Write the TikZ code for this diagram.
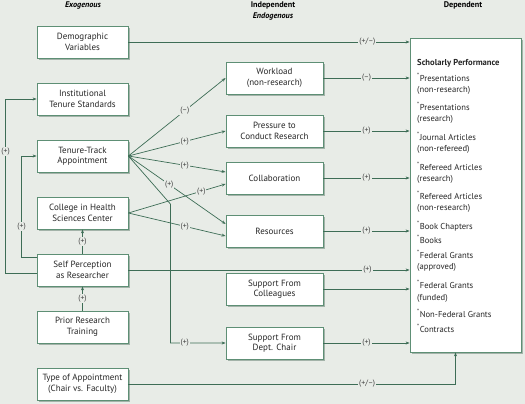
\documentclass[tikz,border=0pt]{standalone}
\usepackage{fontspec}
\setmainfont{PT Sans}
\usetikzlibrary{arrows.meta, shadows}
\definecolor{bgc}{HTML}{E8ECE7}
\definecolor{lnc}{HTML}{3D6D56}
\definecolor{bxc}{HTML}{5E8F75}
\definecolor{shc}{HTML}{A3B3A9}
\newcommand{\itemstar}{\textsuperscript{*}}

\tikzset{
  box/.style={draw=bxc, line width=0.8pt, fill=white, minimum width=91pt,
    minimum height=32pt, inner sep=1pt, align=center, text=black!85,
    font=\fontsize{9}{10.5}\selectfont,
    drop shadow={shadow xshift=2pt, shadow yshift=-2pt, fill=shc, opacity=1}},
  midbox/.style={box, minimum width=97pt},
  link/.style={draw=lnc, line width=0.7pt, -{Stealth[length=4pt,width=3pt]}},
  sign/.style={fill=bgc, inner sep=1pt, text=black!75, font=\fontsize{7.8}{9}\selectfont},
  head/.style={font=\fontsize{8.2}{9}\selectfont\bfseries},
  depitem/.style={anchor=west, inner sep=0pt, text=black!85,
    text height=1.6ex, text depth=.3ex, font=\fontsize{8.6}{9}\selectfont},
}

\begin{document}
\begin{tikzpicture}[x=1pt, y=-1pt]
        % Background
        \fill[bgc] (0,0) rectangle (525,404);
        \useasboundingbox (0,0) rectangle (525,404);

        % Column heads
        \node[head] (hexo) at (83,5) {\itshape Exogenous};
        \node[head] (hind) at (273,5) {Independent};
        \node[head] (hendo) at (273,16) {\itshape Endogenous};
        \node[head] (hdep) at (463,5) {Dependent};

        % Exogenous boxes
        \node[box] (demo) at (82.5,42) {Demographic\\Variables};
        \node[box] (inst) at (82.5,99) {Institutional\\Tenure Standards};
        \node[box] (tt) at (82.5,156) {Tenure-Track\\Appointment};
        \node[box] (coll) at (82.5,213) {College in Health\\Sciences Center};
        \node[box] (self) at (82.5,270) {Self Perception\\as Researcher};
        \node[box] (prior) at (82.5,327) {Prior Research\\Training};
        \node[box] (type) at (82.5,384) {Type of Appointment\\(Chair vs. Faculty)};

        % Endogenous boxes
        \node[midbox] (work) at (274.5,78) {Workload\\(non-research)};
        \node[midbox] (press) at (274.5,131) {Pressure to\\Conduct Research};
        \node[midbox] (collab) at (274.5,178) {Collaboration};
        \node[midbox] (res) at (274.5,231) {Resources};
        \node[midbox] (colleg) at (274.5,289) {Support From\\Colleagues};
        \node[midbox] (chair) at (274.5,343) {Support From\\Dept. Chair};

        % Dependent box
        \node[box, minimum width=111pt, minimum height=314pt] (dep) at (465.5,195) {};
        \node[depitem, font=\fontsize{8.6}{9}\selectfont\bfseries] (sp) at (417,62) {Scholarly Performance};
        \foreach \y/\t [count=\i] in {78/\itemstar Presentations, 89/(non-research),
            107/\itemstar Presentations, 118/(research),
            137/\itemstar Journal Articles, 148/(non-refereed),
            167/\itemstar Refereed Articles, 178/(research),
            196/\itemstar Refereed Articles, 207/(non-research),
            226/\itemstar Book Chapters, 240/\itemstar Books,
            255/\itemstar Federal Grants, 266/(approved),
            285/\itemstar Federal Grants, 297/(funded),
            314/\itemstar Non-Federal Grants, 329/\itemstar Contracts}
          \node[depitem] (it\i) at (417,\y) {\t};

        % Links into the dependent box
        \draw[link] (demo.east) -- node[sign, pos=0.85] {(+/--)} (demo -| dep.west);
        \draw[link] (work.east) -- node[sign] {(--)} (work -| dep.west);
        \draw[link] (press.east) -- node[sign] {(+)} (press -| dep.west);
        \draw[link] (collab.east) -- node[sign] {(+)} (collab -| dep.west);
        \draw[link] (res.east) -- node[sign] {(+)} (res -| dep.west);
        \draw[link] (self.east) -- node[sign, pos=0.85] {(+)} (self -| dep.west);
        \draw[link] (colleg.east) -- (colleg -| dep.west);
        \draw[link] (chair.east) -- node[sign] {(+)} (chair -| dep.west);
        \draw[link] (type.east) -| node[sign, pos=0.365] {(+/--)} ([xshift=-10pt]dep.south);

        % Tenure-track fan
        \draw[link] (tt.east) -- node[sign, pos=0.58] {(--)} (work.west);
        \draw[link] (tt.east) -- node[sign, pos=0.58] {(+)} (press.west);
        \draw[link] (tt.east) -- node[sign, pos=0.58] {(+)} ([yshift=6pt]collab.west);
        \draw[link] (tt.east) -- node[sign, pos=0.42] {(+)} ([yshift=7pt]res.west);
        \draw[link] (tt.east) -- ++(42,48) |- node[sign, pos=0.63] {(+)} (chair.west);

        % College links
        \draw[link] (coll.east) -- node[sign, pos=0.75] {(+)} ([yshift=-6pt]collab.west);
        \draw[link] (coll.east) -- node[sign, pos=0.58] {(+)} ([yshift=-5pt]res.west);

        % Vertical links
        \draw[link] (prior.north) -- node[sign] {(+)} (self.south);
        \draw[link] (self.north) -- node[sign] {(+)} (coll.south);

        % Feedback loops on the left
        \draw[link] ([yshift=-3pt]self.west) -- ++(-31,0) |- node[sign, pos=0.35] {(+)} (inst.west);
        \draw[link] ([yshift=13pt]self.west) -- ++(-15,0) |- node[sign, pos=0.15] {(+)} (tt.west);
    \end{tikzpicture}
\end{document}
